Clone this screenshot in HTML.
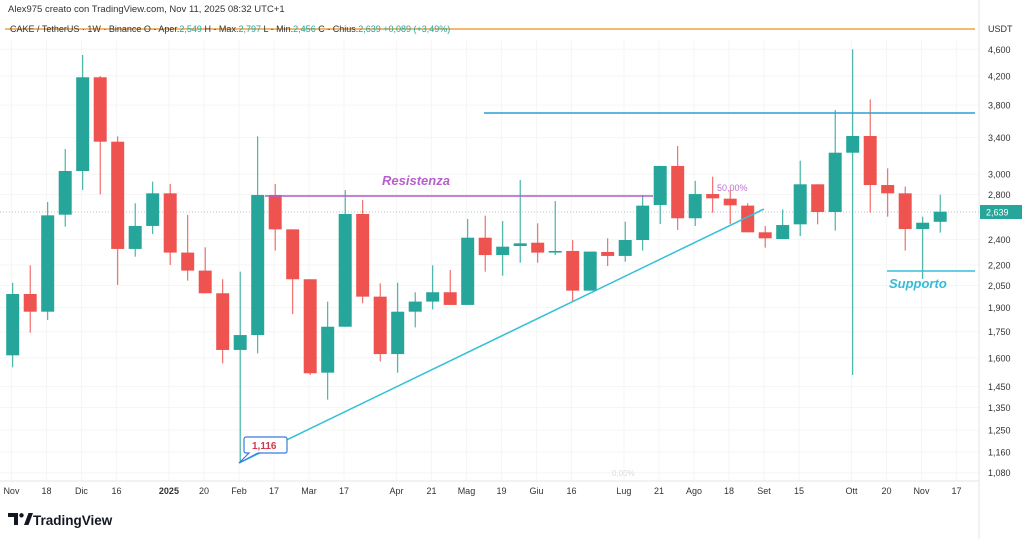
<!DOCTYPE html>
<html><head><meta charset="utf-8">
<style>
body{margin:0;background:#fff;width:1024px;height:539px;overflow:hidden;font-family:"Liberation Sans",sans-serif;}
svg{display:block}
</style></head>
<body>
<svg id="chart" width="1024" height="539" xmlns="http://www.w3.org/2000/svg" font-family="Liberation Sans, sans-serif">
<text x="8" y="12" font-size="9.5" fill="#333">Alex975 creato con TradingView.com, Nov 11, 2025 08:32 UTC+1</text>
<g id="grid"></g>
<line x1="979" y1="0" x2="979" y2="539" stroke="#e6e6e6"/>
<line x1="0" y1="481" x2="979" y2="481" stroke="#e6e6e6"/>
<line x1="5" y1="29" x2="975" y2="29" stroke="#f0a040" stroke-width="1.5"/>
<text x="10" y="32" font-size="9" fill="#333">CAKE / TetherUS · 1W · Binance  O - Aper.<tspan fill="#26a69a">2,549</tspan>  H - Max.<tspan fill="#26a69a">2,797</tspan>  L - Min.<tspan fill="#26a69a">2,456</tspan>  C - Chius.<tspan fill="#26a69a">2,639  +0,089 (+3,49%)</tspan></text>
<text x="988" y="32" font-size="9" fill="#333">USDT</text>
<line x1="0" y1="212" x2="979" y2="212" stroke="#b8c4c4" stroke-dasharray="1,2"/>
<g id="candles"></g>
<line x1="484" y1="113" x2="975" y2="113" stroke="#2a9fd6" stroke-width="1.5"/>
<line x1="265" y1="196" x2="653" y2="196" stroke="#b05cc8" stroke-width="1.5"/>
<text x="382" y="185" font-size="13" font-weight="bold" font-style="italic" fill="#b660cc">Resistenza</text>
<text x="717" y="191" font-size="9" fill="#c070d0">50,00%</text>
<text x="612" y="476" font-size="8" fill="#ddd">0,00%</text>
<line x1="239" y1="463" x2="764" y2="209" stroke="#33c0d8" stroke-width="1.5"/>
<line x1="887" y1="271" x2="975" y2="271" stroke="#33c0d8" stroke-width="1.5"/>
<text x="889" y="288" font-size="13" font-weight="bold" font-style="italic" fill="#33bcd6">Supporto</text>
<g>
<path d="M246,437 h39 a2,2 0 0 1 2,2 v12 a2,2 0 0 1 -2,2 h-27 l-19,10 l10,-10 h-3 a2,2 0 0 1 -2,-2 v-12 a2,2 0 0 1 2,-2z" fill="#fff" stroke="#3a7be0" stroke-width="1.2"/>
<text x="252" y="449" font-size="10" font-weight="bold" fill="#d0384a">1,116</text>
</g>
<rect x="980" y="205" width="42" height="14" fill="#26a69a"/>
<text x="986" y="215.5" font-size="9" fill="#fff">2,639</text>
<g id="yaxis"></g>
<g id="xaxis"></g>
<g>
<path d="M8,513 h10 v12 h-4 v-8 h-6z" fill="#131722"/>
<circle cx="21.5" cy="515.3" r="2.2" fill="#131722"/>
<path d="M24,525 l4.5,-12 h4.5 l-4.5,12z" fill="#131722"/>
<text x="33" y="525" font-size="13.5" font-weight="bold" fill="#131722">TradingView</text>
</g>
</svg>
<script>
const opens=[1614,1991,1874,2612,3033,4180,3353,2323,2513,2810,2294,2157,1996,1644,1730,2794,2484,2094,1521,1780,2618,1973,1621,1874,1940,2003,1918,2414,2275,2346,2373,2294,2307,2014,2299,2268,2395,2700,3086,2580,2803,2759,2694,2459,2403,2527,2898,2636,3229,3419,2891,2810,2487,2549];
const highs=[2069,2196,2728,3270,4512,4198,3414,2716,2925,2901,2609,2336,2094,2149,3414,2901,2484,2094,1940,2842,2747,2065,2070,2003,2196,2162,2574,2603,2556,2941,2536,2737,2395,2302,2409,2550,2794,3086,3304,2932,2975,2842,2716,2513,2660,3142,2898,3737,4600,3876,3061,2875,2594,2797];
const lows=[1549,1744,1822,2507,2842,2800,2054,2262,2445,2199,2084,1996,1570,1116,1625,2310,1859,1509,1387,1780,1929,1580,1521,1776,1889,1918,1918,2149,2120,2216,2216,2275,1940,2014,2191,2224,2310,2530,2479,2513,2630,2530,2459,2333,2403,2428,2527,2473,1509,2630,2594,2310,2096,2456];
const closes=[1991,1874,2606,3033,4180,3353,2323,2513,2810,2294,2157,1996,1644,1730,2794,2484,2094,1518,1780,2618,1973,1621,1874,1940,2003,1918,2414,2275,2341,2368,2294,2307,2014,2302,2268,2395,2694,3086,2580,2803,2762,2697,2459,2409,2521,2898,2636,3229,3419,2891,2810,2487,2541,2639];
const yTicks=[4600,4200,3800,3400,3000,2800,2400,2200,2050,1900,1750,1600,1450,1350,1250,1160,1080];
const xLabels=["Nov","18","Dic","16","2025","20","Feb","17","Mar","17","Apr","21","Mag","19","Giu","16","Lug","21","Ago","18","Set","15","Ott","20","Nov","17"];
const xLabelWeeks=[0,2,4,6,9,11,13,15,17,19,22,24,26,28,30,32,35,37,39,41,43,45,48,50,52,54];

const NS="http://www.w3.org/2000/svg";
function y(v){return 49.3+(Math.log(4600)-Math.log(v))*292.2;}
function x(i){return 12.7+i*17.5;}
function el(t,a,p){const e=document.createElementNS(NS,t);for(const k in a)e.setAttribute(k,a[k]);p.appendChild(e);return e;}
const G="#26a69a",R="#ef5350";
const grid=document.getElementById('grid'),cg=document.getElementById('candles'),ya=document.getElementById('yaxis'),xa=document.getElementById('xaxis');
yTicks.forEach(t=>{
  const l=el('line',{x1:0,x2:979,y1:y(t),y2:y(t),stroke:'#f5f5f5'},grid);
  
  
  const tx=el('text',{x:988,y:y(t)+3.5,'font-size':9,fill:'#333'},ya);
  
  
  tx.textContent=t.toLocaleString('en-US');
});
xLabels.forEach((s,k)=>{
  const px=x(xLabelWeeks[k])-0.7*17.5+11;
  const l=el('line',{x1:px,x2:px,y1:40,y2:481,stroke:'#f5f5f5'},grid);
  
  
  const tx=el('text',{x:px,y:494,'font-size':9,fill:'#333','text-anchor':'middle','font-weight':s==='2025'?'bold':'normal'},xa);
  
  
  tx.textContent=s;
});
opens.forEach((o,i)=>{
  const c=closes[i],col=c>=o?G:R,cx=x(i);
  const w=el('line',{x1:cx,x2:cx,y1:y(highs[i]),y2:y(lows[i]),stroke:col,'stroke-width':1},cg);
  
  
  const t=Math.min(y(o),y(c)),b=Math.max(y(o),y(c));
  const r=el('rect',{x:cx-6.5,y:t,width:13,height:Math.max(1.5,b-t),fill:col},cg);
  
  
});
</script>
</body></html>
